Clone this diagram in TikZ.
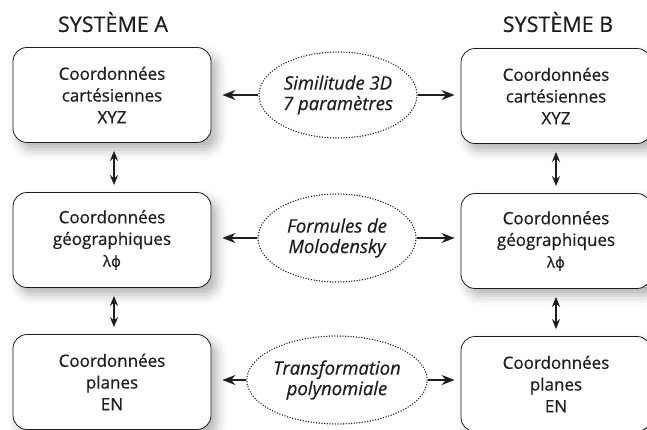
\documentclass[tikz,border=0pt]{standalone}
\usepackage{fontspec}
\setmainfont{Open Sans}[UprightFeatures={FakeBold=0.5}, ItalicFeatures={FakeBold=0.5}]
\newfontfamily\symfont{DejaVu Sans}[FakeBold=0.3]
\usetikzlibrary{arrows.meta,shapes.geometric,shadows.blur}
\definecolor{ink}{HTML}{1E1E1E}
\begin{document}
\begin{tikzpicture}[x=1pt,y=-1pt,
  box/.style={draw=ink, line width=0.8pt, rounded corners=14pt, fill=white,
    minimum height=95pt, align=center, inner sep=0pt, text=ink,
    font=\fontsize{17}{21.7}\selectfont,
    blur shadow={shadow xshift=6pt, shadow yshift=-7pt, shadow blur radius=10pt, shadow opacity=30}},
  lbox/.style={box, minimum width=198pt},
  rbox/.style={box, minimum width=190pt},
  oval/.style={ellipse, draw=ink, line width=1.5pt, dash pattern=on 0pt off 2.7pt, line cap=round,
    minimum width=158pt, minimum height=86pt, inner sep=0pt, align=center, text=ink,
    font=\fontsize{18.5}{20.5}\selectfont\itshape},
  title/.style={text=ink, font=\fontsize{21.5}{24}\selectfont},
  harr/.style={draw=ink, line width=1.7pt, -{Stealth[length=13pt,width=10pt]}},
  varr/.style={draw=ink, line width=1.5pt, {Stealth[length=10pt,width=8pt]}-{Stealth[length=10pt,width=8pt]}, shorten <=8pt, shorten >=7pt}
]
\useasboundingbox (0,0) rectangle (647,430);
\node[title] (ta) at (113,22) {SYSTÈME A};
\node[title] (tb) at (558,22) {SYSTÈME B};

\node[lbox] (a1) at (112,95) {Coordonnées\\cartésiennes\\XYZ};
\node[lbox] (a2) at (112,240) {Coordonnées\\géographiques\\{\fontsize{15}{15}\selectfont λ{\symfont ϕ}}};
\node[lbox] (a3) at (112,382) {Coordonnées\\planes\\EN};

\node[rbox] (b1) at (556,96) {Coordonnées\\cartésiennes\\XYZ};
\node[rbox] (b2) at (556,241) {Coordonnées\\géographiques\\{\fontsize{15}{15}\selectfont λ{\symfont ϕ}}};
\node[rbox] (b3) at (556,384) {Coordonnées\\planes\\EN};

\node[oval] (e1) at (338,95) {Similitude 3D\\7 paramètres};
\node[oval, minimum height=88pt] (e2) at (337,238) {Formules de\\Molodensky};
\node[oval, minimum height=88pt] (e3) at (337,380) {Transformation\\polynomiale};

\foreach \e/\a/\b in {e1/a1/b1, e2/a2/b2, e3/a3/b3}{
  \draw[harr, shorten >=11pt] (\e.west) -- (\a.east |- \e.west);
  \draw[harr, shorten >=6pt] (\e.east) -- (\b.west |- \e.east);
}
\draw[varr] ([xshift=2pt]a1.south) -- ([xshift=2pt]a2.north);
\draw[varr] ([xshift=2pt]a2.south) -- ([xshift=2pt]a3.north);
\draw[varr] (b1.south) -- (b2.north);
\draw[varr] (b2.south) -- (b3.north);
\end{tikzpicture}
\end{document}
